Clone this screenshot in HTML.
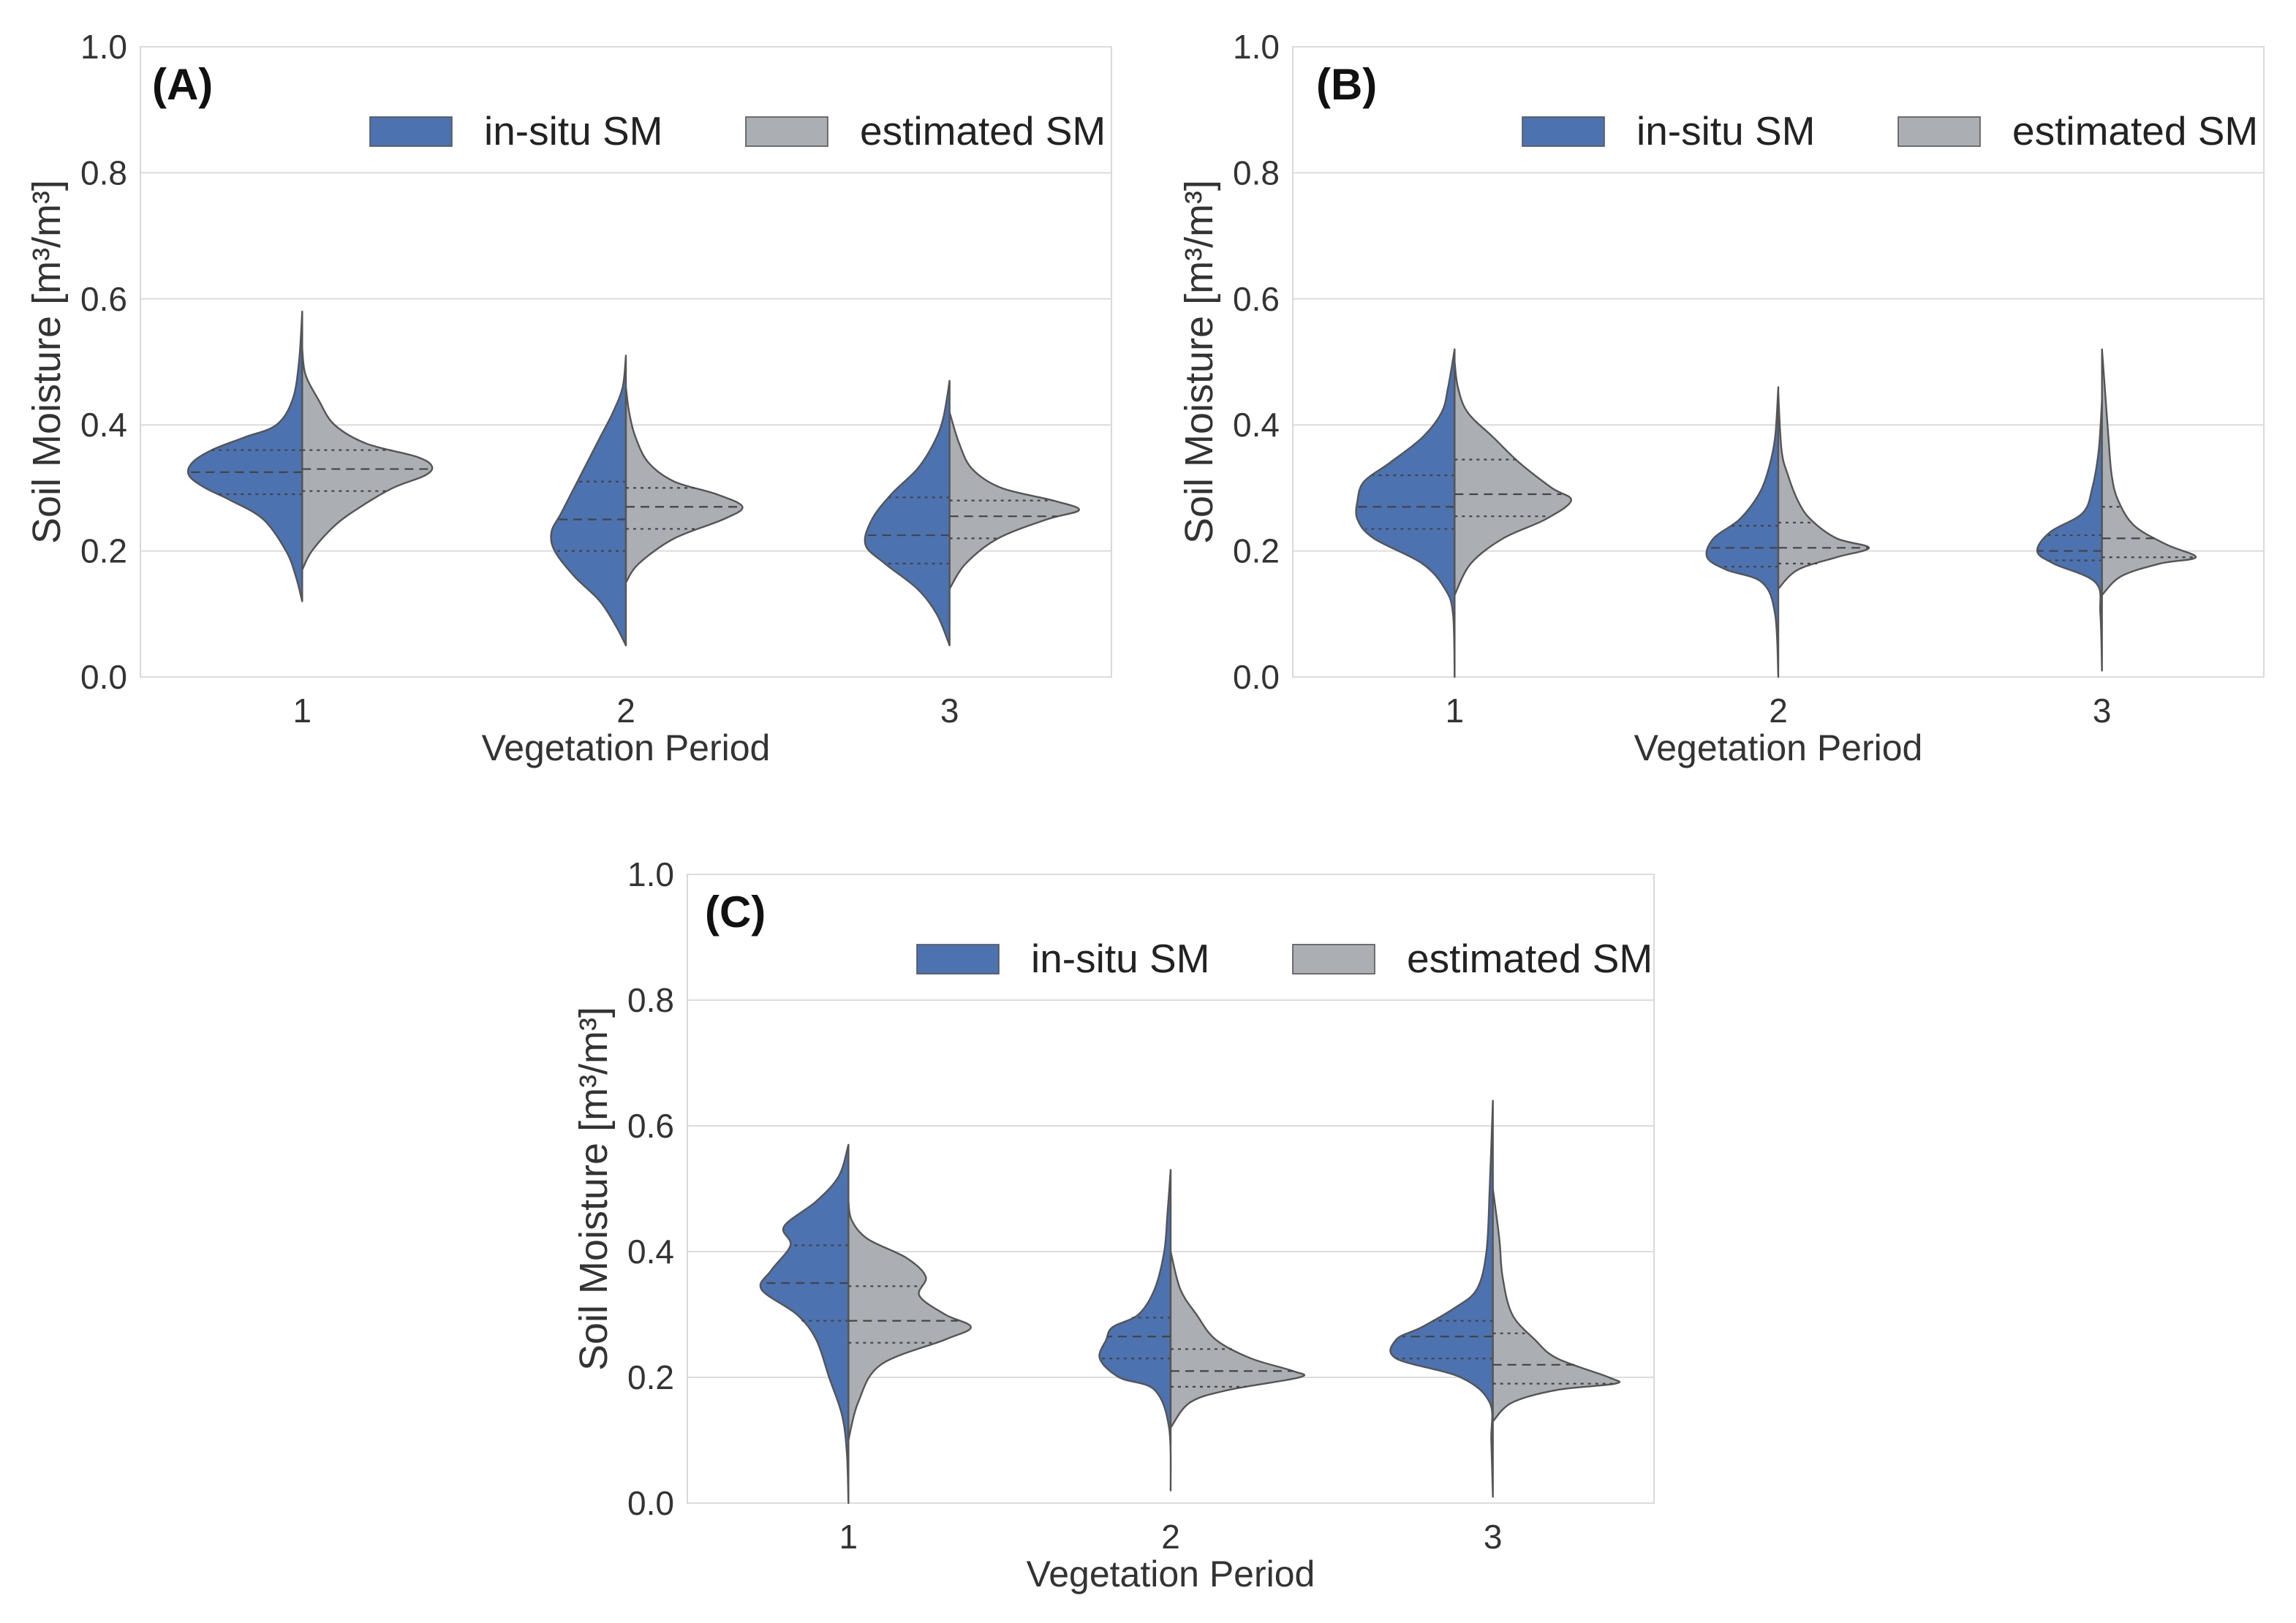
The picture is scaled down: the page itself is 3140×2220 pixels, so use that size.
<!DOCTYPE html>
<html><head><meta charset="utf-8"><style>
html,body{margin:0;padding:0;background:#fff;}
svg{display:block;font-family:"Liberation Sans",sans-serif;}
</style></head><body>
<svg id="fig" width="3140" height="2220" viewBox="0 0 1570 1110" xmlns="http://www.w3.org/2000/svg"></svg>
<script>
const categories = ["1","2","3"];
const yTicks = [0.0,0.2,0.4,0.6,0.8,1.0];
const yTickLabels = ["0.0","0.2","0.4","0.6","0.8","1.0"];
const panelLabels = ["(A)","(B)","(C)"];
const seriesNames = ["in-situ SM","estimated SM"];
// density profiles: [soil moisture value, relative half-width]
const densA_insitu = [
 [[0.12,0],[0.16,0.02],[0.2,0.05],[0.25,0.12],[0.28,0.22],[0.30,0.30],[0.32,0.35],[0.34,0.34],[0.36,0.28],[0.38,0.18],[0.40,0.08],[0.44,0.03],[0.5,0.01],[0.58,0]],
 [[0.05,0],[0.08,0.03],[0.12,0.08],[0.16,0.16],[0.2,0.22],[0.23,0.23],[0.26,0.20],[0.3,0.16],[0.34,0.12],[0.38,0.08],[0.42,0.04],[0.46,0.01],[0.51,0]],
 [[0.05,0],[0.1,0.04],[0.14,0.1],[0.18,0.2],[0.21,0.26],[0.25,0.24],[0.29,0.18],[0.33,0.1],[0.37,0.05],[0.41,0.02],[0.47,0]]
];
const densA_est = [
 [[0.17,0],[0.2,0.03],[0.24,0.1],[0.27,0.18],[0.30,0.28],[0.32,0.38],[0.335,0.40],[0.35,0.35],[0.37,0.2],[0.40,0.1],[0.44,0.05],[0.48,0.01],[0.52,0]],
 [[0.15,0],[0.18,0.04],[0.22,0.15],[0.25,0.30],[0.27,0.36],[0.29,0.28],[0.31,0.15],[0.34,0.07],[0.38,0.03],[0.42,0.01],[0.46,0]],
 [[0.14,0],[0.18,0.05],[0.22,0.15],[0.25,0.30],[0.265,0.40],[0.28,0.32],[0.30,0.16],[0.33,0.07],[0.37,0.03],[0.42,0]]
];
const densB_insitu = [
 [[0.0,0],[0.1,0.005],[0.14,0.03],[0.18,0.1],[0.22,0.25],[0.25,0.30],[0.28,0.30],[0.31,0.28],[0.34,0.2],[0.38,0.1],[0.42,0.04],[0.46,0.02],[0.52,0]],
 [[0.0,0],[0.1,0.01],[0.15,0.05],[0.17,0.16],[0.19,0.22],[0.22,0.2],[0.25,0.12],[0.29,0.06],[0.33,0.03],[0.38,0.01],[0.46,0]],
 [[0.01,0],[0.1,0.005],[0.15,0.02],[0.18,0.15],[0.2,0.2],[0.23,0.16],[0.26,0.06],[0.3,0.03],[0.36,0.01],[0.44,0]]
];
const densB_est = [
 [[0.13,0],[0.18,0.05],[0.22,0.15],[0.25,0.28],[0.28,0.36],[0.30,0.30],[0.34,0.2],[0.38,0.12],[0.42,0.04],[0.46,0.01],[0.5,0]],
 [[0.14,0],[0.17,0.06],[0.19,0.18],[0.205,0.28],[0.22,0.18],[0.25,0.1],[0.28,0.06],[0.32,0.03],[0.36,0.01],[0.45,0]],
 [[0.13,0],[0.16,0.06],[0.18,0.18],[0.19,0.29],[0.21,0.2],[0.24,0.1],[0.28,0.05],[0.32,0.03],[0.38,0.02],[0.45,0.01],[0.52,0]]
];
const densC_insitu = [
 [[0.0,0],[0.08,0.005],[0.14,0.02],[0.2,0.06],[0.26,0.1],[0.3,0.16],[0.34,0.27],[0.37,0.24],[0.41,0.18],[0.44,0.2],[0.48,0.1],[0.52,0.03],[0.57,0]],
 [[0.02,0],[0.12,0.005],[0.18,0.05],[0.2,0.16],[0.23,0.22],[0.26,0.2],[0.28,0.18],[0.3,0.1],[0.34,0.05],[0.4,0.02],[0.46,0.01],[0.53,0]],
 [[0.01,0],[0.1,0.005],[0.16,0.01],[0.2,0.1],[0.23,0.3],[0.26,0.3],[0.28,0.22],[0.31,0.12],[0.34,0.05],[0.4,0.02],[0.5,0.01],[0.64,0]]
];
const densC_est = [
 [[0.1,0],[0.16,0.03],[0.22,0.1],[0.26,0.3],[0.28,0.38],[0.3,0.3],[0.33,0.22],[0.36,0.24],[0.39,0.18],[0.42,0.06],[0.45,0.01],[0.48,0]],
 [[0.12,0],[0.16,0.06],[0.18,0.18],[0.2,0.4],[0.21,0.38],[0.23,0.25],[0.26,0.14],[0.3,0.08],[0.34,0.03],[0.4,0]],
 [[0.13,0],[0.16,0.06],[0.18,0.2],[0.19,0.38],[0.2,0.36],[0.23,0.2],[0.26,0.13],[0.3,0.06],[0.36,0.03],[0.42,0.02],[0.5,0]]
];
// quartiles [q1, median, q3]
const quartA_insitu = [[0.29,0.325,0.36],[0.2,0.25,0.31],[0.18,0.225,0.285]];
const quartA_est = [[0.295,0.33,0.36],[0.235,0.27,0.30],[0.22,0.255,0.28]];
const quartB_insitu = [[0.235,0.27,0.32],[0.175,0.205,0.24],[0.185,0.2,0.225]];
const quartB_est = [[0.255,0.29,0.345],[0.18,0.205,0.245],[0.19,0.22,0.27]];
const quartC_insitu = [[0.29,0.35,0.41],[0.23,0.265,0.295],[0.23,0.265,0.29]];
const quartC_est = [[0.255,0.29,0.345],[0.185,0.21,0.245],[0.19,0.22,0.27]];

const NS="http://www.w3.org/2000/svg";
const svg=document.getElementById('fig');
function mk(tag,attrs,parent){const e=document.createElementNS(NS,tag);for(const k in attrs)e.setAttribute(k,attrs[k]);(parent||svg).appendChild(e);return e;}
function smoothPath(pts){
 let d='M'+pts[0][0]+','+pts[0][1];
 for(let i=0;i<pts.length-1;i++){
  const p0=pts[Math.max(0,i-1)],p1=pts[i],p2=pts[i+1],p3=pts[Math.min(pts.length-1,i+2)];
  const c1=[p1[0]+(p2[0]-p0[0])/6,p1[1]+(p2[1]-p0[1])/6];
  const c2=[p2[0]-(p3[0]-p1[0])/6,p2[1]-(p3[1]-p1[1])/6];
  d+=' C'+c1[0]+','+c1[1]+' '+c2[0]+','+c2[1]+' '+p2[0]+','+p2[1];
 }
 return d;
}

const panels=[
 {x0:96,x1:760,yTop:32,yBot:463,legX:253,legY:80,labX:104,ylabX:32,ins:densA_insitu,est:densA_est,qi:quartA_insitu,qe:quartA_est},
 {x0:884,x1:1548,yTop:32,yBot:463,legX:1041,legY:80,labX:900,ylabX:820,ins:densB_insitu,est:densB_est,qi:quartB_insitu,qe:quartB_est},
 {x0:470,x1:1131,yTop:598,yBot:1028,legX:627,legY:646,labX:482,ylabX:406,ins:densC_insitu,est:densC_est,qi:quartC_insitu,qe:quartC_est}
];
panels.forEach((p,pi)=>{
 const g=mk('g',{});
 
 
 const yS=v=>p.yBot-(v)*(p.yBot-p.yTop);
 const cw=(p.x1-p.x0)/categories.length;
 const xS=i=>p.x0+(i+0.5)*cw;
 mk('rect',{x:p.x0,y:p.yTop,width:p.x1-p.x0,height:p.yBot-p.yTop,fill:'#fff',stroke:'#d9d9d9','stroke-width':1},g);
 yTicks.forEach((t,i)=>{
  const l=mk('line',{x1:p.x0,x2:p.x1,y1:yS(t),y2:yS(t),stroke:'#dcdcdc','stroke-width':1},g);
  
  
  const tx=mk('text',{x:p.x0-9,y:yS(t)+8,'text-anchor':'end','font-size':23,fill:'#333'},g);
  tx.textContent=yTickLabels[i];
  
  
 });
 categories.forEach((c,i)=>{
  const tx=mk('text',{x:xS(i),y:p.yBot+31,'text-anchor':'middle','font-size':23,fill:'#333'},g);
  tx.textContent=c;
  
  
 });
 const xl=mk('text',{x:(p.x0+p.x1)/2,y:p.yBot+57,'text-anchor':'middle','font-size':25,fill:'#333'},g);
 xl.textContent='Vegetation Period';
 
 
 const ym=(p.yTop+p.yBot)/2;
 const yl=mk('text',{x:p.ylabX,y:ym,'text-anchor':'middle','font-size':27,fill:'#333',transform:`rotate(-90 ${p.ylabX} ${ym})`,dy:9},g);
 yl.textContent='Soil Moisture [m³/m³]';
 
 
 const pl=mk('text',{x:p.labX,y:p.yTop+36,'font-size':30,'font-weight':'bold',fill:'#111'},g);
 pl.textContent=panelLabels[pi];
 
 
 const drawHalf=(dens,q,i,side,fill,name)=>{
  const cx=xS(i);
  const pts=dens.map(([v,w])=>[cx+side*w*cw,yS(v)]);
  let d=smoothPath(pts)+' L'+cx+','+yS(dens[dens.length-1][0])+' L'+cx+','+yS(dens[0][0])+' Z';
  const path=mk('path',{d:d,fill:fill,stroke:'#555','stroke-width':1.2,'stroke-linejoin':'round'},g);
  
  
  const wAt=v=>{for(let k=0;k<dens.length-1;k++){const a=dens[k],b=dens[k+1];if(v>=a[0]&&v<=b[0]){return a[1]+(b[1]-a[1])*(v-a[0])/(b[0]-a[0]);}}return 0;};
  q.forEach((v,k)=>{
   const ln=mk('line',{x1:cx,x2:cx+side*wAt(v)*cw,y1:yS(v),y2:yS(v),stroke:'#444','stroke-width':1.1,'stroke-dasharray':k===1?'6,4':'2,3'},g);
   
   
  });
 };
 categories.forEach((c,i)=>{
  drawHalf(p.ins[i],p.qi[i],i,-1,'#4c72b0','violin-insitu-'+c);
  drawHalf(p.est[i],p.qe[i],i,1,'#abafb4','violin-estimated-'+c);
 });
 const lg=mk('g',{},g);
 
 
 const r1=mk('rect',{x:p.legX,y:p.legY,width:56,height:20,fill:'#4c72b0',stroke:'#555','stroke-width':0.8},lg);
 
 
 const t1=mk('text',{x:p.legX+78,y:p.legY+19,'font-size':27.5,fill:'#222'},lg);
 t1.textContent=seriesNames[0];
 
 
 const r2=mk('rect',{x:p.legX+257,y:p.legY,width:56,height:20,fill:'#abafb4',stroke:'#555','stroke-width':0.8},lg);
 
 
 const t2=mk('text',{x:p.legX+335,y:p.legY+19,'font-size':27.5,fill:'#222'},lg);
 t2.textContent=seriesNames[1];
 
 
});
</script>
</body></html>
